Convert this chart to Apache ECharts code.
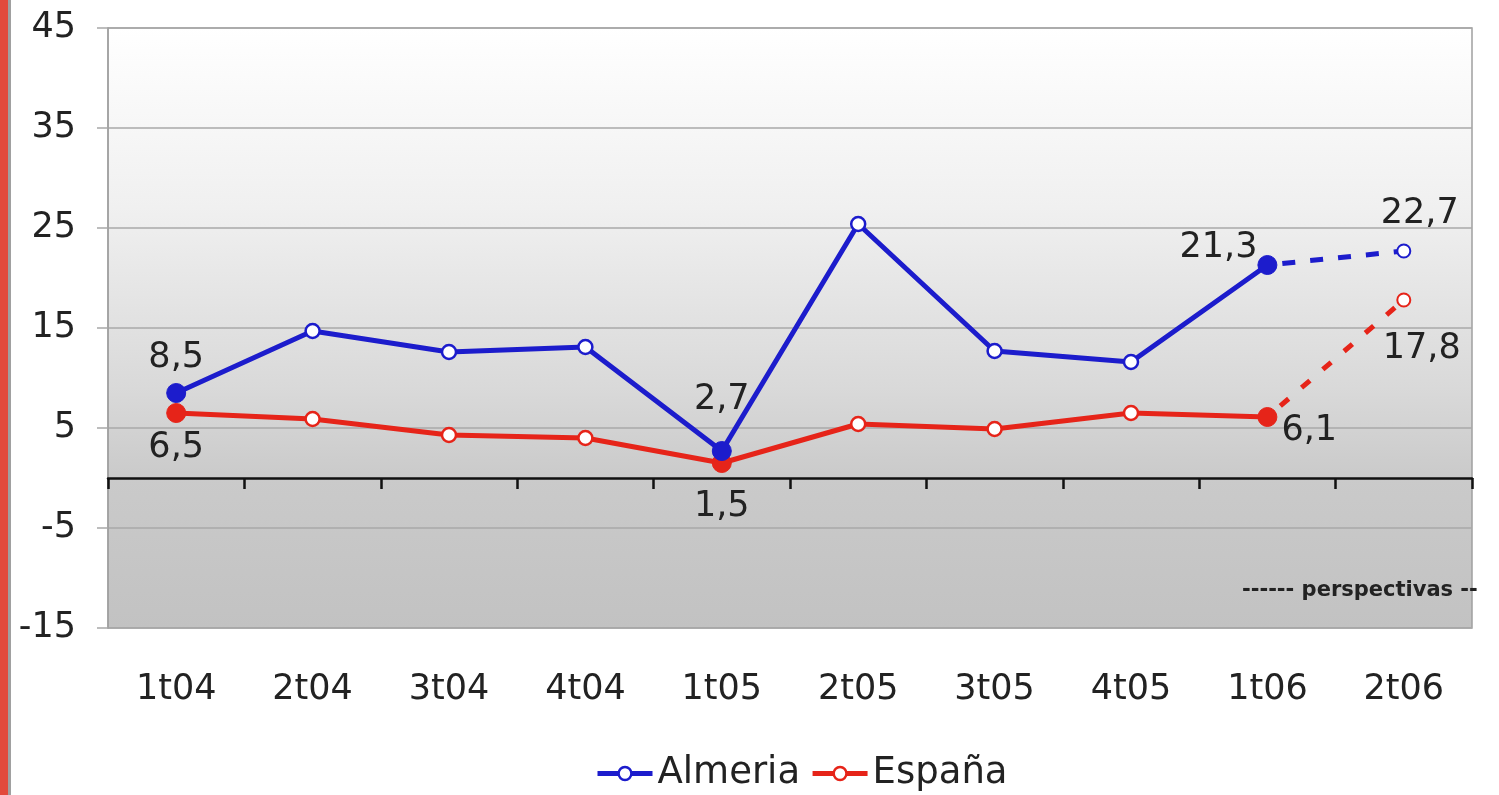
<!DOCTYPE html>
<html>
<head>
<meta charset="utf-8">
<script src="https://cdn.jsdelivr.net/npm/echarts@6/dist/echarts.min.js"></script>
<style>
html,body{margin:0;padding:0;background:#fff;}
#chart{width:1499px;height:795px;}
</style>
</head>
<body>
<div id="chart"></div>
<script>
var categories = ['1t04','2t04','3t04','4t04','1t05','2t05','3t05','4t05','1t06','2t06'];
var almeria = [8.5, 14.7, 12.6, 13.1, 2.7, 25.4, 12.7, 11.6, 21.3, null];
var espana = [6.5, 5.9, 4.3, 4.0, 1.5, 5.4, 4.9, 6.5, 6.1, null];
var almeriaPersp = [null, null, null, null, null, null, null, null, 21.3, 22.7];
var espanaPersp = [null, null, null, null, null, null, null, null, 6.1, 17.8];
var yTicks = {min: -15, max: 45, interval: 10};
var filledIdx = [0, 4, 8];
var legendNames = ['Almeria', 'España'];
var noteText = '------ perspectivas --';

var BLUE = '#1c1ccc';
var RED = '#e62419';
var FONT = 'DejaVu Sans';
var FS = 35;

function fmt(v){ return String(v).replace('.', ','); }

var labelCfg = {
  almeria: {0:{position:'top', distance:8}, 4:{position:'top', distance:24}, 8:{position:'left', distance:0, offset:[0,-17]}},
  espana: {0:{position:'bottom', distance:7}, 4:{position:'bottom', distance:16}, 8:{position:'right', distance:4, offset:[0,14]}}
};

function buildMain(values, color, cfg){
  return values.map(function(v, i){
    if (v === null) return null;
    var item = {value: v};
    if (filledIdx.indexOf(i) >= 0) {
      item.symbolSize = 19;
      item.itemStyle = {color: color, borderColor: color, borderWidth: 1};
    }
    if (cfg[i]) {
      item.label = Object.assign({show: true, formatter: function(p){ return fmt(p.value); },
        fontSize: FS, fontFamily: FONT, color: '#222'}, cfg[i]);
    }
    return item;
  });
}

function buildPersp(values, color, lbl){
  return values.map(function(v, i){
    if (v === null) return null;
    if (i === 8) return {value: v, symbol: 'none'};
    return {value: v, label: Object.assign({show: true, formatter: function(p){ return fmt(p.value); },
      fontSize: FS, fontFamily: FONT, color: '#222'}, lbl)};
  });
}

var chart = echarts.init(document.getElementById('chart'));
chart.setOption({
  animation: false,
  backgroundColor: '#fff',
  grid: {
    left: 108, right: 27, top: 28, bottom: 167,
    show: true, borderColor: '#a0a0a0', borderWidth: 1.5,
    backgroundColor: {
      type: 'linear', x: 0, y: 0, x2: 0, y2: 1,
      colorStops: [
        {offset: 0, color: '#ffffff'},
        {offset: 0.3, color: '#f0f0f0'},
        {offset: 0.6, color: '#d9d9d9'},
        {offset: 0.75, color: '#cacaca'},
        {offset: 1, color: '#c2c2c2'}
      ]
    }
  },
  legend: {
    data: legendNames,
    left: 590, top: 750,
    itemWidth: 55, itemHeight: 16, itemGap: 10,
    lineStyle: {width: 5},
    itemStyle: {borderWidth: 2.5},
    textStyle: {fontSize: 37, fontFamily: FONT, color: '#222'}
  },
  xAxis: [{
    type: 'category', data: categories, boundaryGap: true,
    position: 'bottom',
    axisLine: {show: false, onZero: false},
    axisTick: {show: false},
    splitLine: {show: false},
    axisLabel: {fontSize: FS, fontFamily: FONT, color: '#222', margin: 44}
  }, {
    type: 'category', data: categories, boundaryGap: true,
    position: 'bottom',
    axisLine: {show: true, onZero: true, lineStyle: {color: '#111', width: 2.5}},
    axisTick: {show: true, inside: false, length: 11, lineStyle: {color: '#111', width: 2.5}},
    axisLabel: {show: false},
    splitLine: {show: false}
  }],
  yAxis: {
    type: 'value', min: yTicks.min, max: yTicks.max, interval: yTicks.interval,
    axisLine: {show: true, lineStyle: {color: '#a0a0a0', width: 1.5}},
    axisTick: {show: true, length: 11, lineStyle: {color: '#a8a8a8', width: 1.5}},
    splitLine: {show: true, lineStyle: {color: '#a9a9a9', width: 1.5}},
    axisLabel: {fontSize: FS, fontFamily: FONT, color: '#222', margin: 32}
  },
  series: [{
    name: 'Almeria', type: 'line', xAxisIndex: 0,
    data: buildMain(almeria, BLUE, labelCfg.almeria),
    symbol: 'circle', symbolSize: 14,
    lineStyle: {color: BLUE, width: 5},
    itemStyle: {color: '#fff', borderColor: BLUE, borderWidth: 2.5},
    z: 3
  }, {
    name: 'España', type: 'line', xAxisIndex: 0,
    data: buildMain(espana, RED, labelCfg.espana),
    symbol: 'circle', symbolSize: 14,
    lineStyle: {color: RED, width: 5},
    itemStyle: {color: '#fff', borderColor: RED, borderWidth: 2.5},
    z: 2
  }, {
    name: 'Almeria persp', type: 'line', xAxisIndex: 0,
    data: buildPersp(almeriaPersp, BLUE, {position: 'top', distance: 12, offset: [16, 0]}),
    symbol: 'circle', symbolSize: 13,
    lineStyle: {color: BLUE, width: 5, type: [13, 15], dashOffset: 13},
    itemStyle: {color: '#fff', borderColor: BLUE, borderWidth: 2},
    z: 3
  }, {
    name: 'España persp', type: 'line', xAxisIndex: 0,
    data: buildPersp(espanaPersp, RED, {position: 'bottom', distance: 24, offset: [18, 0]}),
    symbol: 'circle', symbolSize: 13,
    lineStyle: {color: RED, width: 5, type: [11, 17], dashOffset: 11},
    itemStyle: {color: '#fff', borderColor: RED, borderWidth: 2},
    z: 2
  }],
  graphic: [
    {type: 'rect', left: 0, top: 0, shape: {width: 8, height: 795}, style: {fill: '#e24a3c'}},
    {type: 'rect', left: 8, top: 0, shape: {width: 3, height: 795}, style: {fill: '#a0a0a0'}},
    {type: 'text', left: 1242, top: 580, style: {text: noteText, fontSize: 21, fontWeight: 'bold', fontFamily: FONT, fill: '#222'}}
  ]
});
</script>
</body>
</html>
